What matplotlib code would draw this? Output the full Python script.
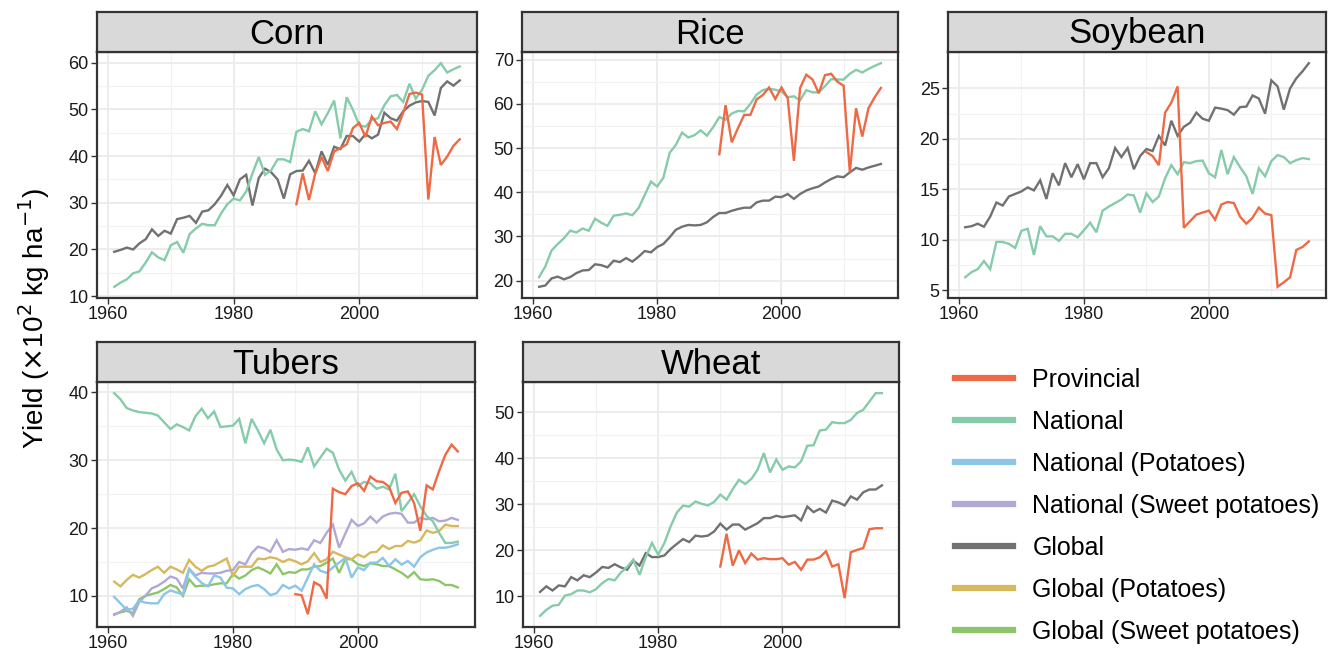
import numpy as np
import matplotlib
matplotlib.use("Agg")
import matplotlib.pyplot as plt
from matplotlib.lines import Line2D

plt.rcParams['font.family'] = ['Liberation Sans', 'DejaVu Sans']

years = np.arange(1961, 2017)
prov_years = np.arange(1990, 2017)

# ---- Corn ----
corn_national = [12.0, 12.9, 13.6, 14.9, 15.3, 17.2, 19.4, 18.3, 17.7, 20.9, 21.6, 19.3, 23.3, 24.5,
                 25.5, 25.2, 25.2, 27.7, 29.7, 30.9, 30.5, 32.4, 36.3, 39.8, 36.0, 37.0, 39.3, 39.3,
                 38.7, 45.2, 45.8, 45.3, 49.6, 46.8, 49.2, 51.9, 43.8, 52.6, 49.9, 46.6, 46.3, 47.8,
                 48.1, 50.9, 52.8, 53.1, 51.6, 55.5, 52.3, 54.2, 57.2, 58.4, 59.9, 57.9, 58.6, 59.2]
corn_global = [19.5, 19.9, 20.4, 20.0, 21.3, 22.2, 24.3, 22.9, 24.0, 23.4, 26.5, 26.8, 27.2, 25.7,
               28.1, 28.4, 29.7, 31.5, 33.8, 31.6, 35.0, 36.0, 29.4, 35.3, 37.3, 36.5, 35.0, 30.9,
               36.1, 36.8, 36.9, 39.0, 36.3, 41.0, 38.1, 42.0, 41.5, 44.3, 44.3, 43.1, 44.7, 43.8,
               44.6, 49.3, 48.1, 47.6, 49.6, 50.8, 51.5, 51.8, 51.6, 48.7, 54.6, 56.0, 55.1, 56.2]
corn_prov = [29.7, 36.3, 30.6, 36.3, 39.8, 36.8, 41.0, 41.7, 42.5, 46.0, 47.1, 44.1, 48.5, 46.6,
             47.1, 47.4, 45.8, 49.3, 53.3, 53.6, 53.2, 30.7, 44.1, 38.1, 39.9, 42.2, 43.6]

# ---- Rice ----
rice_national = [20.8, 23.2, 26.8, 28.3, 29.6, 31.3, 30.9, 31.8, 31.3, 34.0, 33.1, 32.4, 34.7, 34.9,
                 35.2, 34.8, 36.4, 39.4, 42.4, 41.3, 43.3, 48.9, 50.7, 53.5, 52.4, 52.9, 54.0, 52.8,
                 54.7, 57.0, 56.4, 57.8, 58.4, 58.3, 60.0, 62.1, 63.1, 63.4, 63.2, 62.8, 61.5, 61.7,
                 60.8, 63.1, 62.6, 62.6, 64.0, 65.6, 65.5, 65.5, 66.8, 67.7, 67.1, 67.9, 68.6, 69.2]
rice_global = [18.6, 18.9, 20.5, 20.9, 20.3, 20.8, 21.7, 22.3, 22.4, 23.7, 23.5, 23.0, 24.5, 24.2,
               25.1, 24.3, 25.4, 26.7, 26.4, 27.6, 28.3, 29.8, 31.5, 32.2, 32.6, 32.5, 32.6, 33.2,
               34.4, 35.3, 35.3, 35.8, 36.2, 36.5, 36.5, 37.7, 38.1, 38.1, 39.0, 38.9, 39.6, 38.5,
               39.6, 40.4, 40.9, 41.3, 42.2, 43.0, 43.6, 43.4, 44.5, 45.5, 45.1, 45.6, 46.0, 46.4]
rice_prov = [48.6, 59.7, 51.3, 54.5, 57.5, 57.5, 61.0, 62.0, 63.7, 61.1, 63.7, 61.3, 47.1, 63.6,
             66.6, 65.5, 62.4, 66.5, 66.8, 65.0, 64.1, 44.5, 59.0, 52.6, 59.0, 61.5, 63.6]

# ---- Soybean ----
soy_national = [6.3, 6.8, 7.1, 7.9, 7.1, 9.8, 9.8, 9.6, 9.2, 10.9, 11.1, 8.5, 11.35, 10.35,
                10.35, 9.9, 10.6, 10.6, 10.25, 10.95, 11.7, 10.75, 12.9, 13.3, 13.65, 14.0, 14.5, 14.4,
                12.7, 14.6, 13.75, 14.3, 16.1, 17.4, 16.5, 17.7, 17.6, 17.8, 17.85, 16.6, 16.2, 18.9,
                16.5, 18.2, 17.2, 16.3, 14.55, 17.1, 16.3, 17.8, 18.4, 18.2, 17.6, 17.9, 18.1, 18.0]
soy_global = [11.25, 11.35, 11.6, 11.3, 12.3, 13.7, 13.4, 14.3, 14.55, 14.8, 15.2, 14.9, 15.9, 14.05,
              16.6, 15.4, 17.6, 16.2, 17.5, 16.0, 17.6, 17.6, 16.2, 17.1, 19.1, 18.2, 19.1, 17.0,
              18.3, 19.0, 18.8, 20.3, 19.35, 21.8, 20.3, 21.2, 21.6, 22.6, 22.0, 21.8, 23.1, 23.0,
              22.85, 22.4, 23.15, 23.2, 24.3, 24.0, 22.5, 25.8, 25.2, 22.9, 25.0, 26.0, 26.7, 27.5]
soy_prov = [18.7, 18.3, 17.4, 22.6, 23.6, 25.2, 11.2, 11.85, 12.5, 12.7, 12.9, 12.0, 13.5, 13.75,
            13.65, 12.3, 11.6, 12.2, 13.2, 12.6, 12.45, 5.35, 5.8, 6.3, 9.0, 9.3, 9.85]

# ---- Tubers ----
tub_national = [39.9, 39.0, 37.7, 37.35, 37.1, 37.0, 36.9, 36.6, 35.6, 34.6, 35.3, 34.9, 34.4, 36.5,
                37.6, 36.2, 37.2, 34.9, 35.0, 35.1, 36.1, 32.5, 36.1, 34.4, 32.5, 34.5, 31.6, 30.0,
                30.1, 30.0, 29.75, 31.9, 29.1, 30.4, 31.7, 31.1, 28.6, 27.0, 28.3, 26.2, 26.8, 26.6,
                25.8, 26.1, 25.7, 28.0, 22.5, 23.7, 25.0, 23.2, 21.8, 21.0, 19.3, 17.8, 17.8, 18.0]
tub_nat_potato = [9.85, 8.9, 7.95, 8.1, 9.3, 9.0, 8.9, 8.9, 10.25, 10.8, 10.5, 10.2, 13.9, 12.8,
                  11.9, 11.4, 13.0, 12.7, 11.2, 11.1, 10.25, 11.0, 11.4, 11.6, 11.0, 10.1, 10.4, 11.6,
                  11.1, 11.5, 10.75, 12.7, 14.65, 13.7, 13.4, 14.2, 14.9, 15.6, 12.7, 14.2, 13.8, 14.9,
                  14.9, 15.6, 14.4, 15.4, 14.6, 15.15, 14.3, 15.7, 16.4, 16.8, 17.1, 17.1, 17.3, 17.6]
tub_nat_sweet = [7.2, 7.65, 8.3, 7.05, 9.1, 10.0, 11.1, 11.5, 12.1, 12.85, 12.55, 11.1, 14.0, 13.0,
                 13.4, 13.3, 13.3, 13.4, 13.7, 13.8, 15.0, 14.65, 16.3, 17.25, 17.0, 16.5, 18.2, 16.5,
                 16.9, 16.8, 17.0, 16.8, 18.2, 17.8, 19.3, 20.5, 17.1, 19.2, 21.2, 20.3, 20.7, 21.7,
                 20.8, 21.7, 22.1, 22.25, 22.1, 20.8, 20.8, 21.5, 21.3, 21.5, 21.0, 21.1, 21.5, 21.2]
tub_glob_potato = [12.1, 11.4, 12.35, 13.1, 12.7, 13.2, 13.8, 14.3, 13.4, 14.3, 13.9, 13.4, 15.3, 14.3,
                   13.7, 14.3, 14.5, 15.0, 15.5, 13.0, 14.3, 14.3, 14.3, 15.5, 15.4, 15.7, 15.5, 15.0,
                   15.4, 15.1, 14.65, 15.1, 16.3, 15.0, 15.4, 16.5, 16.1, 15.7, 15.4, 16.1, 15.7, 16.4,
                   16.5, 17.45, 16.9, 17.35, 17.35, 18.1, 17.85, 18.2, 19.65, 19.3, 19.55, 20.5, 20.3, 20.3]
tub_glob_sweet = [7.3, 7.55, 7.8, 7.45, 9.5, 10.0, 10.25, 10.5, 11.0, 11.6, 11.25, 10.0, 12.45, 11.4,
                  11.5, 11.5, 11.7, 11.85, 11.85, 13.2, 12.55, 13.0, 13.8, 14.2, 13.8, 13.3, 14.65, 13.2,
                  13.5, 13.4, 13.9, 13.9, 14.3, 14.4, 14.9, 15.5, 13.4, 15.4, 15.4, 14.65, 14.4, 14.8,
                  14.65, 14.4, 14.4, 13.9, 13.4, 12.7, 13.5, 12.45, 12.35, 12.45, 12.2, 11.6, 11.6, 11.25]
tub_prov = [10.25, 10.1, 7.3, 12.0, 11.5, 9.6, 25.8, 25.3, 25.0, 26.2, 26.6, 25.5, 27.6, 26.9,
            26.8, 26.1, 23.7, 25.2, 25.4, 23.7, 19.6, 26.3, 25.7, 28.4, 30.8, 32.3, 31.3]

# ---- Wheat ----
wheat_national = [5.8, 7.1, 8.0, 8.2, 10.2, 10.5, 11.3, 11.3, 10.9, 11.6, 12.9, 13.8, 13.5, 15.2,
                  16.4, 18.0, 14.7, 18.5, 21.6, 19.05, 21.6, 25.2, 28.2, 29.7, 29.5, 30.6, 30.1, 29.75,
                  30.5, 32.1, 31.0, 33.3, 35.3, 34.4, 35.5, 37.5, 41.1, 36.9, 39.7, 37.5, 38.2, 38.0,
                  39.3, 42.7, 42.8, 46.0, 46.2, 47.8, 47.6, 47.6, 48.3, 49.8, 50.5, 52.3, 54.1, 54.1]
wheat_global = [11.0, 12.2, 11.3, 12.4, 12.2, 14.2, 13.5, 14.6, 14.2, 15.2, 16.4, 16.2, 17.0, 16.3,
                15.8, 17.8, 16.7, 19.4, 18.55, 18.55, 18.9, 20.3, 21.4, 22.45, 21.8, 23.2, 23.0, 23.2,
                24.1, 25.8, 24.5, 25.6, 25.6, 24.5, 25.2, 25.9, 27.0, 27.0, 27.5, 27.2, 27.4, 27.6,
                26.5, 29.5, 28.3, 29.0, 28.2, 30.8, 30.4, 29.75, 31.7, 31.0, 32.6, 33.2, 33.2, 34.1]
wheat_prov = [16.5, 23.6, 16.7, 20.0, 17.25, 19.3, 18.0, 18.3, 18.1, 18.1, 18.3, 16.9, 17.5, 15.8,
              18.0, 18.0, 18.5, 19.8, 16.5, 17.0, 9.65, 19.6, 20.1, 20.5, 24.6, 24.8, 24.8]

series_names = ["Provincial", "National", "National (Potatoes)", "National (Sweet potatoes)",
                "Global", "Global (Potatoes)", "Global (Sweet potatoes)"]
colors = {"Provincial": "#EE6A45", "National": "#86CBAA", "National (Potatoes)": "#8CC5E8",
          "National (Sweet potatoes)": "#B0A9D6", "Global": "#717171",
          "Global (Potatoes)": "#D6B85E", "Global (Sweet potatoes)": "#8DC66A"}

panels = [
    ("Corn", {"Global": corn_global, "National": corn_national, "Provincial": corn_prov},
     [10, 20, 30, 40, 50, 60]),
    ("Rice", {"Global": rice_global, "National": rice_national, "Provincial": rice_prov},
     [20, 30, 40, 50, 60, 70]),
    ("Soybean", {"Global": soy_global, "National": soy_national, "Provincial": soy_prov},
     [5, 10, 15, 20, 25]),
    ("Tubers", {"Global (Sweet potatoes)": tub_glob_sweet, "Global (Potatoes)": tub_glob_potato,
                "National (Sweet potatoes)": tub_nat_sweet, "National (Potatoes)": tub_nat_potato,
                "National": tub_national, "Provincial": tub_prov},
     [10, 20, 30, 40]),
    ("Wheat", {"Global": wheat_global, "National": wheat_national, "Provincial": wheat_prov},
     [10, 20, 30, 40, 50]),
]

W, H = 1340, 657
fig = plt.figure(figsize=(W / 100, H / 100), dpi=100)

# panel boxes in pixels: left, right, strip top, plot top, plot bottom
boxes = [(97, 477, 12, 52, 298), (522, 898, 12, 52, 298), (948, 1326, 12, 52, 298),
         (97, 475, 342, 382, 627), (523, 899, 342, 382, 627)]

border = "#333333"
for (name, data, yticks), (l, r, st, pt, pb) in zip(panels, boxes):
    ax = fig.add_axes([l / W, 1 - pb / H, (r - l) / W, (pb - pt) / H])
    for key, vals in data.items():
        xs = prov_years if key == "Provincial" else years
        ax.plot(xs, vals, color=colors[key], lw=1.7, solid_joinstyle='miter')
    ax.set_xticks([1960, 1980, 2000])
    ax.set_xticks([1970, 1990, 2010], minor=True)
    ax.set_yticks(yticks)
    ax.set_yticks([t + (yticks[1] - yticks[0]) / 2 for t in yticks[:-1]], minor=True)
    ax.set_xlim(1958.25, 2018.75)
    lo, hi = min(min(v) for v in data.values()), max(max(v) for v in data.values())
    pad = (hi - lo) * 0.05
    ax.set_ylim(lo - pad, hi + pad)
    ax.grid(which='major', color='#EBEBEB', lw=1.3)
    ax.grid(which='minor', color='#F2F2F2', lw=0.8)
    ax.set_axisbelow(True)
    ax.tick_params(which='major', length=4, width=1, color=border, labelsize=13,
                   labelcolor='#1a1a1a', pad=2)
    ax.tick_params(which='minor', length=0)
    for s in ax.spines.values():
        s.set_color(border)
        s.set_linewidth(1.6)
    sx = fig.add_axes([l / W, 1 - pt / H, (r - l) / W, (pt - st) / H])
    sx.set_facecolor('#D9D9D9')
    sx.set_xticks([])
    sx.set_yticks([])
    for s in sx.spines.values():
        s.set_color(border)
        s.set_linewidth(1.6)
    sx.text(0.5, 0.45, name, ha='center', va='center', fontsize=25, color='black',
            transform=sx.transAxes)

fig.text(34 / W, 1 - 318 / H, r'Yield ($\times$10$^2$ kg ha$^{-1}$)', rotation=90,
         ha='center', va='center', fontsize=20)

handles = [Line2D([], [], color=colors[n], lw=4.5) for n in series_names]
fig.legend(handles, series_names, loc='upper left', bbox_to_anchor=(945 / W, 1 - 358 / H),
           frameon=False, fontsize=18, handlelength=2.3, handletextpad=0.8,
           labelspacing=0.72, borderaxespad=0)

fig.savefig("out.png", dpi=100)
